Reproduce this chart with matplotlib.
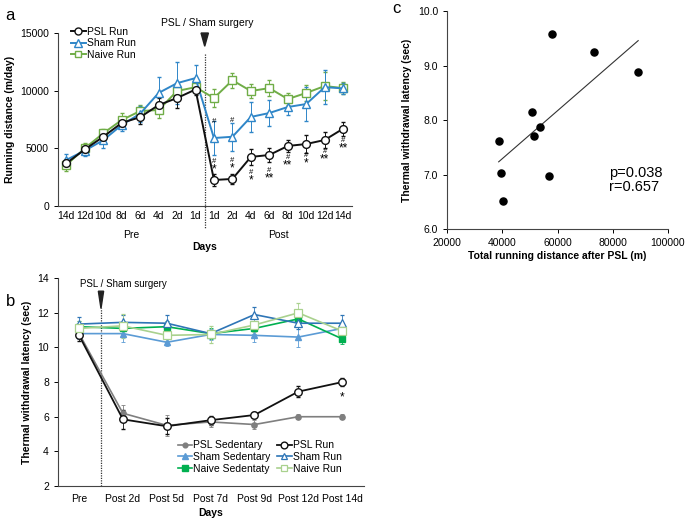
import matplotlib.pyplot as plt
import matplotlib.transforms as mtransforms
from matplotlib.patches import Polygon
import numpy as np

plt.rcParams['font.family'] = ['Liberation Sans', 'DejaVu Sans']

# ---- panel a: running distance ----
days_a = ["14d", "12d", "10d", "8d", "6d", "4d", "2d", "1d",
          "1d", "2d", "4d", "6d", "8d", "10d", "12d", "14d"]
psl_run_a = [3700, 4900, 6000, 7200, 7700, 8750, 9360, 10100,
             2250, 2340, 4250, 4420, 5200, 5370, 5720, 6700]
psl_run_a_err = [300, 400, 400, 450, 550, 650, 870, 500,
                 500, 450, 700, 600, 550, 800, 700, 600]
sham_run_a = [3990, 4800, 5700, 7020, 8000, 9800, 10650, 11090,
              5890, 6000, 7720, 8060, 8580, 8840, 10300, 10200]
sham_run_a_err = [550, 450, 650, 550, 700, 1400, 1800, 1100,
                  1500, 1200, 1300, 1150, 700, 1500, 1500, 500]
naive_run_a = [3550, 5000, 6300, 7450, 8230, 8320, 9970, 10300,
               9360, 10900, 9970, 10220, 9270, 9800, 10400, 10220]
naive_run_a_err = [500, 500, 350, 600, 550, 700, 600, 500,
                   800, 650, 650, 700, 550, 700, 1200, 550]
hash_a = ["#", "#", "#", "#", "#", "#", "#", "#"]
star_a = ["*", "*", "*", "**", "**", "*", "**", "**"]
sham_hash_idx = [8, 9]

# ---- panel b: thermal withdrawal latency ----
days_b = ["Pre", "Post 2d", "Post 5d", "Post 7d", "Post 9d", "Post 12d", "Post 14d"]
psl_sed = [10.8, 6.2, 5.5, 5.7, 5.55, 6.0, 6.0]
psl_sed_err = [0.3, 0.5, 0.6, 0.3, 0.25, 0.15, 0.15]
psl_run = [10.7, 5.85, 5.45, 5.8, 6.1, 7.45, 8.0]
psl_run_err = [0.3, 0.55, 0.45, 0.25, 0.2, 0.3, 0.25]
sham_sed = [10.8, 10.8, 10.3, 10.75, 10.7, 10.6, 11.1]
sham_sed_err = [0.3, 0.5, 0.2, 0.3, 0.4, 0.6, 0.3]
sham_run = [11.35, 11.45, 11.4, 10.8, 11.9, 11.4, 11.4]
sham_run_err = [0.4, 0.4, 0.45, 0.2, 0.45, 0.35, 0.45]
naive_sed = [11.2, 11.1, 11.2, 10.8, 11.1, 11.65, 10.5]
naive_sed_err = [0.3, 0.3, 0.3, 0.3, 0.3, 0.35, 0.3]
naive_run = [11.1, 11.25, 10.7, 10.75, 11.3, 12.0, 10.95]
naive_run_err = [0.4, 0.7, 0.3, 0.5, 0.4, 0.55, 0.3]

# ---- panel c: correlation ----
total_dist = [58070, 73100, 89200, 50800, 53700, 51500, 38700, 39500, 56800, 40300]
latency = [9.58, 9.25, 8.88, 8.15, 7.88, 7.71, 7.61, 7.02, 6.98, 6.52]

BLACK = "#111111"
BLUE = "#2f86c8"
GREEN = "#70ad47"
GRAY = "#7f7f7f"
LBLUE = "#5b9bd5"
DBLUE = "#2e75b6"
DGREEN = "#00b050"
LGREEN = "#a9d18e"
FS = 7.5


def style_axes(a):
    for s in ["top", "right"]:
        a.spines[s].set_visible(False)
    for s in ["left", "bottom"]:
        a.spines[s].set_linewidth(0.8)
        a.spines[s].set_color("#444444")
    a.tick_params(labelsize=FS, length=3, width=0.7)


fig = plt.figure(figsize=(6.85, 5.2), dpi=100)

# ======================= a =======================
ax = fig.add_axes([0.0847, 0.604, 0.4297, 0.3325])
xa = np.arange(len(days_a))
ekw = dict(capsize=1.5, elinewidth=0.7, capthick=0.7)
e_naive = ax.errorbar(xa, naive_run_a, yerr=naive_run_a_err, color=GREEN, marker="s",
                      ms=5.2, mfc="white", mew=1.0, lw=1.4, **ekw)
e_sham = ax.errorbar(xa, sham_run_a, yerr=sham_run_a_err, color=BLUE, marker="^",
                     ms=5.8, mfc="white", mew=1.0, lw=1.4, **ekw)
e_psl = ax.errorbar(xa, psl_run_a, yerr=psl_run_a_err, color=BLACK, marker="o",
                    ms=5.6, mfc="white", mew=1.0, lw=1.4, **ekw)
ax.set_xlim(-0.45, 15.5)
ax.set_ylim(0, 15000)
ax.set_yticks([0, 5000, 10000, 15000])
ax.set_xticks(xa)
ax.set_xticklabels(days_a)
style_axes(ax)
ax.tick_params(axis="x", length=0)
ax.set_ylabel("Running distance (m/day)", fontsize=FS, fontweight="bold")
tr = mtransforms.blended_transform_factory(ax.transData, ax.transAxes)
ax.text(3.5, -0.17, "Pre", transform=tr, ha="center", va="center", fontsize=FS)
ax.text(11.5, -0.17, "Post", transform=tr, ha="center", va="center", fontsize=FS)
ax.text(7.5, -0.24, "Days", transform=tr, ha="center", va="center", fontsize=FS,
        fontweight="bold")
ax.plot([7.5, 7.5], [0.88, -0.135], transform=tr, color="#333333", lw=0.9,
        ls=(0, (1, 1)), clip_on=False)
ax.add_patch(Polygon([[7.3, 15000], [7.7, 15000], [7.5, 13850]], closed=True,
                     color="#222222", clip_on=False))
ax.text(7.63, 1.06, "PSL / Sham surgery", transform=tr, ha="center", va="center",
        fontsize=FS)
for k, i in enumerate(range(8, 16)):
    if i in (8, 9):
        yh = psl_run_a[i] + 1600
    elif i in (10, 11):
        yh = psl_run_a[i] - 1350
    else:
        yh = psl_run_a[i] - 1000
    ax.text(i, yh, hash_a[k], ha="center", va="center", fontsize=5.5)
    ax.text(i, yh - 720, star_a[k], ha="center", va="center", fontsize=8.5)
for i in sham_hash_idx:
    ax.text(i, sham_run_a[i] + 1450, "#", ha="center", va="center", fontsize=5.5)
ax.legend([e_psl[0], e_sham[0], e_naive[0]], ["PSL Run", "Sham Run", "Naive Run"],
          loc="upper left", bbox_to_anchor=(0.03, 1.06),
          frameon=False, fontsize=FS, handlelength=1.4, handletextpad=0.1,
          labelspacing=0.15, borderaxespad=0, markerscale=0.9)

# ======================= b =======================
bx = fig.add_axes([0.0847, 0.0654, 0.4468, 0.3996])
xb = np.arange(len(days_b))
ekw = dict(capsize=1.5, elinewidth=0.6, capthick=0.6)
b1 = bx.errorbar(xb, psl_sed, yerr=psl_sed_err, color=GRAY, marker="o", ms=3.8,
                 lw=1.2, **ekw)
b2 = bx.errorbar(xb, sham_sed, yerr=sham_sed_err, color=LBLUE, marker="^", ms=4.5,
                 lw=1.2, **ekw)
b3 = bx.errorbar(xb, naive_sed, yerr=naive_sed_err, color=DGREEN, marker="s", ms=4.2,
                 lw=1.2, **ekw)
b4 = bx.errorbar(xb, psl_run, yerr=psl_run_err, color=BLACK, marker="o", ms=5.4,
                 mfc="white", mew=1.0, lw=1.3, **ekw)
b5 = bx.errorbar(xb, sham_run, yerr=sham_run_err, color=DBLUE, marker="^", ms=5.2,
                 mfc="white", mew=0.9, lw=1.2, **ekw)
b6 = bx.errorbar(xb, naive_run, yerr=naive_run_err, color=LGREEN, marker="s", ms=5.2,
                 mfc="white", mew=0.9, lw=1.2, **ekw)
bx.set_xlim(-0.48, 6.5)
bx.set_ylim(2, 14)
bx.set_yticks(range(2, 15, 2))
bx.set_xticks(xb)
bx.set_xticklabels(days_b)
style_axes(bx)
bx.tick_params(axis="x", length=0, pad=6)
bx.set_ylabel("Thermal withdrawal latency (sec)", fontsize=FS, fontweight="bold")
bx.set_xlabel("Days", fontsize=FS, fontweight="bold", labelpad=3)
bx.plot([0.5, 0.5], [2, 12.3], color="#333333", lw=0.9, ls=(0, (1, 1)))
bx.add_patch(Polygon([[0.44, 13.25], [0.56, 13.25], [0.5, 12.25]], closed=True,
                     color="#222222", clip_on=False))
bx.text(1.0, 13.65, "PSL / Sham surgery", ha="center", va="center", fontsize=7)
bx.text(6, 7.1, "*", ha="center", va="center", fontsize=8.5)
bx.legend([b[0] for b in (b1, b2, b3, b4, b5, b6)],
          ["PSL Sedentary", "Sham Sedentary", "Naive Sedentaty",
           "PSL Run", "Sham Run", "Naive Run"],
          loc="lower right", bbox_to_anchor=(0.94, 0.04), ncol=2, frameon=False,
          fontsize=FS, handlelength=1.4, handletextpad=0.1, labelspacing=0.15,
          columnspacing=0.6, borderaxespad=0, markerscale=0.9)

# ======================= c =======================
cx = fig.add_axes([0.6526, 0.5596, 0.3226, 0.4192])
cx.scatter(total_dist, latency, s=26, color="black", zorder=3)
coef = np.polyfit(total_dist, latency, 1)
xl = np.array([min(total_dist), max(total_dist)])
cx.plot(xl, np.polyval(coef, xl), color="#333333", lw=0.8)
cx.set_xlim(20000, 100000)
cx.set_ylim(6.0, 10.0)
cx.set_xticks([20000, 40000, 60000, 80000, 100000])
cx.set_yticks([6.0, 7.0, 8.0, 9.0, 10.0])
cx.set_yticklabels(["6.0", "7.0", "8.0", "9.0", "10.0"])
style_axes(cx)
cx.set_xlabel("Total running distance after PSL (m)", fontsize=FS, fontweight="bold",
              labelpad=2)
cx.set_ylabel("Thermal withdrawal latency (sec)", fontsize=FS, fontweight="bold")
cx.text(0.733, 0.225, "p=0.038\nr=0.657", transform=cx.transAxes, ha="left",
        va="center", fontsize=10.5, linespacing=1.0)

fig.text(0.008, 0.985, "a", fontsize=12, va="top")
fig.text(0.008, 0.435, "b", fontsize=12, va="top")
fig.text(0.573, 0.998, "c", fontsize=12, va="top")

fig.savefig("out.png", dpi=100)
